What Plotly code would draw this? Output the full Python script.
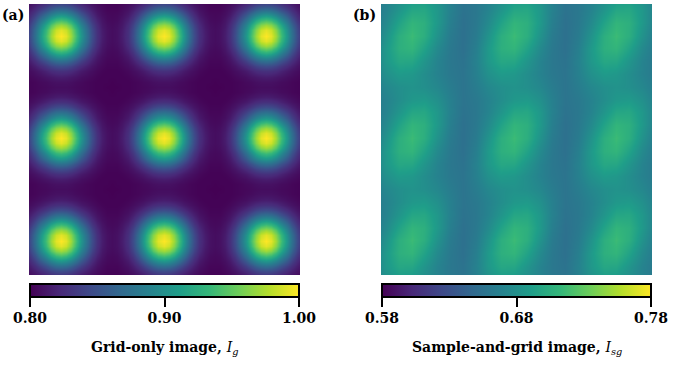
import numpy as np
import plotly.graph_objects as go

# ---- Panel (a): grid-only image. Values read around one bright spot,
# offsets 0..10 (1/20 of a grid period) from the spot centre; rows = y, cols = x
spot_a = [
    [1.000, 0.992, 0.970, 0.939, 0.905, 0.873, 0.847, 0.828, 0.816, 0.809, 0.807],
    [0.992, 0.984, 0.963, 0.933, 0.900, 0.870, 0.845, 0.827, 0.815, 0.809, 0.807],
    [0.970, 0.963, 0.945, 0.918, 0.889, 0.862, 0.840, 0.824, 0.813, 0.808, 0.806],
    [0.939, 0.933, 0.918, 0.896, 0.873, 0.850, 0.832, 0.819, 0.811, 0.806, 0.805],
    [0.905, 0.900, 0.889, 0.873, 0.855, 0.838, 0.824, 0.814, 0.808, 0.805, 0.804],
    [0.873, 0.870, 0.862, 0.850, 0.838, 0.826, 0.817, 0.810, 0.806, 0.803, 0.803],
    [0.847, 0.845, 0.840, 0.832, 0.824, 0.817, 0.811, 0.807, 0.804, 0.802, 0.802],
    [0.828, 0.827, 0.824, 0.819, 0.814, 0.810, 0.807, 0.804, 0.802, 0.801, 0.801],
    [0.816, 0.815, 0.813, 0.811, 0.808, 0.806, 0.804, 0.802, 0.801, 0.801, 0.801],
    [0.809, 0.809, 0.808, 0.806, 0.805, 0.803, 0.802, 0.801, 0.801, 0.801, 0.800],
    [0.807, 0.807, 0.806, 0.805, 0.804, 0.803, 0.802, 0.801, 0.801, 0.800, 0.800],
]

# ---- Panel (b): sample-and-grid image. One grid period read at 8x8 points,
# rows top->bottom offsets -4..3, cols left->right offsets -4..3 (1/8 period)
tile_b = [
    [0.657, 0.664, 0.673, 0.679, 0.682, 0.679, 0.673, 0.664],
    [0.657, 0.661, 0.669, 0.678, 0.686, 0.688, 0.680, 0.667],
    [0.656, 0.660, 0.670, 0.684, 0.698, 0.699, 0.686, 0.668],
    [0.654, 0.661, 0.675, 0.695, 0.711, 0.706, 0.687, 0.666],
    [0.654, 0.663, 0.682, 0.705, 0.716, 0.705, 0.682, 0.663],
    [0.654, 0.666, 0.687, 0.706, 0.711, 0.695, 0.675, 0.661],
    [0.656, 0.668, 0.686, 0.699, 0.698, 0.684, 0.670, 0.660],
    [0.657, 0.667, 0.680, 0.688, 0.686, 0.678, 0.669, 0.661],
]

ticks_a = [0.80, 0.90, 1.00]
ticklabels_a = ["0.80", "0.90", "1.00"]
ticks_b = [0.58, 0.68, 0.78]
ticklabels_b = ["0.58", "0.68", "0.78"]
range_a = [0.80, 1.00]
range_b = [0.58, 0.78]
title_a = "<b>Grid-only image, </b><i>I</i><sub><i>g</i></sub>"
title_b = "<b>Sample-and-grid image, </b><i>I</i><sub><i>sg</i></sub>"
panel_labels = ["<b>(a)</b>", "<b>(b)</b>"]

# arrange the read values over the 3x3 periodic grid
k_a = np.arange(-27, 28)
off_a = np.abs(((k_a + 10) % 20) - 10)
z_a = np.array(spot_a)[np.ix_(off_a, off_a)]

k_b = np.arange(-12, 13)
off_b = (k_b + 4) % 8
z_b = np.array(tile_b)[np.ix_(off_b, off_b)]

W, H = 678, 366
FONT = "DejaVu Serif"

fig = go.Figure()
fig.add_trace(go.Heatmap(x=k_a, y=k_a, z=z_a, coloraxis="coloraxis",
                         zsmooth="best", xaxis="x", yaxis="y", hoverinfo="skip"))
fig.add_trace(go.Heatmap(x=k_b, y=k_b, z=z_b, coloraxis="coloraxis2",
                         zsmooth="best", xaxis="x2", yaxis="y2", hoverinfo="skip"))

img_top, img_bot = 4, 275
ax_a = (29, 300)
ax_b = (381, 652)
ydom = [1 - img_bot / H, 1 - img_top / H]

def cbar(x0, x1, vals, texts):
    return dict(
        orientation="h",
        x=(x0 + x1) / 2 / W, xanchor="center",
        y=1 - 284 / H, yanchor="top",
        len=(x1 - x0 - 2) / W, lenmode="fraction",
        thickness=13, outlinewidth=2, outlinecolor="black",
        xpad=0, ypad=0,
        ticks="outside", ticklen=9, tickwidth=2, tickcolor="black",
        tickvals=vals, ticktext=["<b>%s</b>" % t for t in texts],
        tickfont=dict(family=FONT, size=14, color="black"),
    )

fig.update_layout(
    width=W, height=H,
    margin=dict(l=0, r=0, t=0, b=0),
    paper_bgcolor="white", plot_bgcolor="white",
    showlegend=False,
    xaxis=dict(domain=[ax_a[0] / W, ax_a[1] / W], range=[-26.24, 26.63],
               visible=False, anchor="y"),
    yaxis=dict(domain=ydom, range=[26.73, -26.15], visible=False, anchor="x"),
    xaxis2=dict(domain=[ax_b[0] / W, ax_b[1] / W], range=[-10.39, 10.78],
                visible=False, anchor="y2"),
    yaxis2=dict(domain=ydom, range=[10.70, -10.47], visible=False, anchor="x2"),
    coloraxis=dict(colorscale="Viridis", cmin=range_a[0], cmax=range_a[1],
                   colorbar=cbar(ax_a[0], ax_a[1], ticks_a, ticklabels_a)),
    coloraxis2=dict(colorscale="Viridis", cmin=range_b[0], cmax=range_b[1],
                    colorbar=cbar(ax_b[0], ax_b[1], ticks_b, ticklabels_b)),
)

for txt, xc in [(title_a, (ax_a[0] + ax_a[1]) / 2), (title_b, (ax_b[0] + ax_b[1]) / 2)]:
    fig.add_annotation(text=txt, xref="paper", yref="paper",
                       x=xc / W, y=1 - 348 / H, xanchor="center", yanchor="middle",
                       showarrow=False, font=dict(family=FONT, size=14, color="black"))

for txt, xl in zip(panel_labels, [0, 351]):
    fig.add_annotation(text=txt, xref="paper", yref="paper",
                       x=xl / W, y=1 - 15 / H, xanchor="left", yanchor="middle",
                       showarrow=False, font=dict(family=FONT, size=14, color="black"))

fig.write_html("out.html", config={"displayModeBar": False},
               post_script="document.body.style.margin='0';document.body.style.overflow='hidden';")
